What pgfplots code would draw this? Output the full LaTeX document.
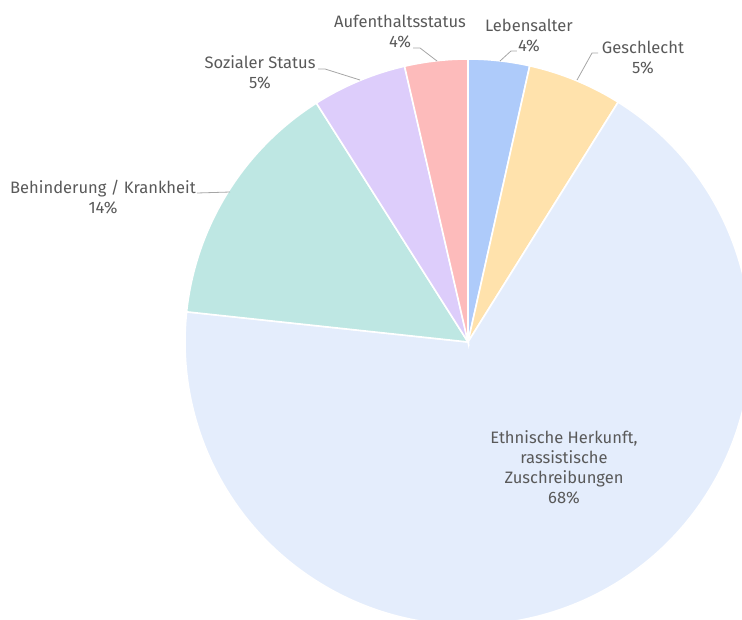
\documentclass[border=0pt]{standalone}
\usepackage{pgfplots}
\usepackage{pgfplotstable}
\pgfplotsset{compat=1.18}
\usepackage{fontspec}
\setmainfont{Fira Sans}
\definecolor{cLeb}{HTML}{AECBFA}
\definecolor{cGes}{HTML}{FFE2AC}
\definecolor{cEth}{HTML}{E4EDFC}
\definecolor{cBeh}{HTML}{BEE7E3}
\definecolor{cSoz}{HTML}{DDCDFB}
\definecolor{cAuf}{HTML}{FDBBBB}
\definecolor{txt}{HTML}{595959}
\definecolor{lead}{HTML}{A6A6A6}

% shares (percent), clockwise from 12 o'clock
\pgfplotstableread{
value
3.5
5.4
67.8
14.3
5.4
3.6
}\piedata

\begin{document}
\begin{tikzpicture}
\def\cum{0}
\pgfplotsforeachungrouped \i in {0,...,5}{%
  \pgfplotstablegetelem{\i}{value}\of\piedata
  \pgfmathsetmacro{\s}{90-3.6*\cum}%
  \pgfmathsetmacro{\cum}{\cum+\pgfplotsretval}%
  \pgfmathsetmacro{\e}{90-3.6*\cum}%
  \expandafter\xdef\csname pieS\i\endcsname{\s}%
  \expandafter\xdef\csname pieE\i\endcsname{\e}%
}
\newcommand\slice[2]{%
  \filldraw[fill=#2, draw=white, line width=1.2pt]
    (axis cs:0,0) -- (axis cs:{cos(\csname pieS#1\endcsname)},{sin(\csname pieS#1\endcsname)})
    arc[start angle=\csname pieS#1\endcsname, end angle=\csname pieE#1\endcsname, radius=212.25pt] -- cycle;}
\begin{axis}[hide axis, x=212.25pt, y=212.25pt,
  xmin=-1.6537, xmax=0.9682, ymin=-0.9788, ymax=1.2085,
  clip=true, scale only axis]
\slice{0}{cLeb}
\slice{1}{cGes}
\slice{2}{cEth}
\slice{3}{cBeh}
\slice{4}{cSoz}
\slice{5}{cAuf}
\begin{scope}[every node/.style={align=center, text=txt, inner sep=0pt, font=\fontsize{12.4}{15}\selectfont}]
\node at (axis cs:-0.2403,1.0954) {Aufenthaltsstatus\\4\%};
\node at (axis cs:-0.735,0.954) {Sozialer Status\\5\%};
\node at (axis cs:0.2155,1.0813) {Lebensalter\\4\%};
\node at (axis cs:0.6184,1.0035) {Geschlecht\\5\%};
\node at (axis cs:-1.2898,0.5124) {Behinderung / Krankheit\\14\%};
\node at (axis cs:0.3392,-0.4417) {Ethnische Herkunft,\\rassistische\\Zuschreibungen\\68\%};
\end{scope}
\begin{scope}[draw=lead, line width=0.6pt]
\draw[lead] (axis cs:-0.1943,1.0389) -- (axis cs:-0.1696,1.0389) -- (axis cs:-0.1095,0.9929);
\draw[lead] (axis cs:-0.5300,0.9647) -- (axis cs:-0.5053,0.9647) -- (axis cs:-0.3816,0.9258);
\draw[lead] (axis cs:0.1731,1.0283) -- (axis cs:0.1519,1.0283) -- (axis cs:0.1131,0.9929);
\draw[lead] (axis cs:0.4594,1.0212) -- (axis cs:0.4382,1.0212) -- (axis cs:0.3852,0.9258);
\draw[lead] (axis cs:-0.9576,0.5265) -- (axis cs:-0.8410,0.5300);
\end{scope}
\end{axis}
\pgfresetboundingbox
\path[use as bounding box] (current axis.south west) rectangle (current axis.north east);
\end{tikzpicture}
\end{document}
